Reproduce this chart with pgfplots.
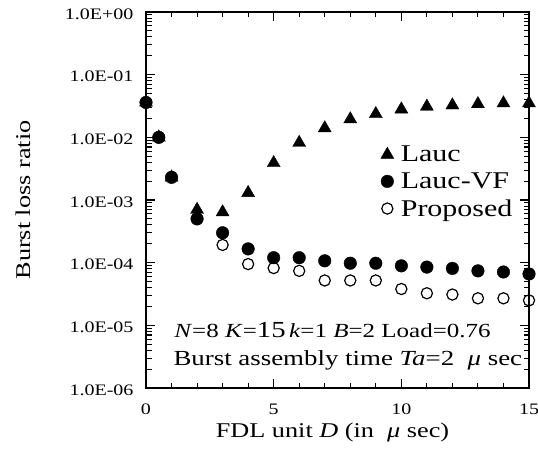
\documentclass[border=0pt]{standalone}
\usepackage{fontspec}
\setmainfont[FakeStretch=1.25]{Liberation Serif}
\usepackage{pgfplots}
\pgfplotsset{compat=1.18}
\begin{document}
\begin{tikzpicture}
\useasboundingbox (0,0) rectangle (538pt,455pt);
\begin{axis}[
  at={(146pt,67pt)}, anchor=south west,
  scale only axis, width=383pt, height=376pt,
  ymode=log, xmin=0, xmax=15, ymin=1e-6, ymax=1,
  clip=false,
  axis line style={line width=2pt},
  every tick/.style={black, line width=1.1pt},
  major tick length=9pt, minor tick length=5.5pt,
  tick align=inside,
  xtick={0,5,10,15}, minor x tick num=4,
  ytick={1e-6,1e-5,1e-4,1e-3,1e-2,1e-1,1},
  yticklabels={1.0E-06,1.0E-05,1.0E-04,1.0E-03,1.0E-02,1.0E-01,1.0E+00},
  /pgf/number format/assume math mode=true,
  tick label style={font=\fontsize{16}{18}\selectfont},
  yticklabel style={anchor=east, xshift=-9pt, yshift=-2pt},
  xticklabel style={anchor=center, yshift=-21pt},
  xlabel={FDL unit \textit{D} (in \ \textit{μ} sec)},
  ylabel={Burst loss ratio},
  label style={font=\fontsize{21}{24}\selectfont},
  xlabel style={at={(axis description cs:0.5,0)}, anchor=center, yshift=-44pt, xshift=-5pt},
  ylabel style={at={(axis description cs:0,0.5)}, anchor=center, yshift=123pt},
  legend style={draw=none, fill=none, at={(rel axis cs:0.61,0.652)}, anchor=north west,
    font=\fontsize{24}{27}\selectfont, row sep=5.5pt, inner sep=1pt},
  legend cell align=left,
  legend image code/.code={\draw[#1] plot coordinates {(0.1cm,0cm)};},
]
\addplot[only marks, mark=triangle*, mark size=7.5pt, black] coordinates {
(0,3.6e-2) (0.5,1.0e-2) (1,2.3e-3) (2,7.0e-4) (3,6.4e-4) (4,1.3e-3) (5,3.9e-3)
(6,8.2e-3) (7,1.4e-2) (8,1.95e-2) (9,2.36e-2) (10,2.8e-2) (11,3.1e-2)
(12,3.25e-2) (13,3.4e-2) (14,3.5e-2) (15,3.5e-2)};
\addlegendentry{\hspace{5pt}Lauc}
\addplot[only marks, mark=*, mark size=6.3pt, black] coordinates {
(0,3.6e-2) (0.5,1.0e-2) (1,2.3e-3) (2,5.0e-4) (3,3.0e-4) (4,1.66e-4) (5,1.2e-4)
(6,1.2e-4) (7,1.07e-4) (8,9.8e-5) (9,9.8e-5) (10,8.9e-5) (11,8.5e-5)
(12,8.1e-5) (13,7.4e-5) (14,7.1e-5) (15,6.6e-5)};
\addlegendentry{\hspace{5pt}Lauc-VF}
\addplot[only marks, mark=o, mark size=5.6pt, black, mark options={line width=1.2pt, fill=none}] coordinates {
(0,3.6e-2) (0.5,1.0e-2) (1,2.3e-3) (2,5.0e-4) (3,1.92e-4) (4,9.5e-5) (5,8.2e-5)
(6,7.4e-5) (7,5.2e-5) (8,5.2e-5) (9,5.2e-5) (10,3.8e-5) (11,3.25e-5)
(12,3.1e-5) (13,2.7e-5) (14,2.7e-5) (15,2.5e-5)};
\addlegendentry{\hspace{5pt}Proposed}
\node[font=\fontsize{20}{23}\selectfont, anchor=center] at (rel axis cs:0.487,0.154)
  {\textit{N}=8 \textit{K}={\fontsize{23}{25}\selectfont 15}\,\textit{k}=1 \textit{B}=2 Load=0.76};
\node[font=\fontsize{21.5}{24}\selectfont, anchor=center] at (rel axis cs:0.527,0.0745)
  {Burst assembly time \textit{Ta}=2 \ \textit{μ} sec};
\end{axis}
\end{tikzpicture}
\end{document}
